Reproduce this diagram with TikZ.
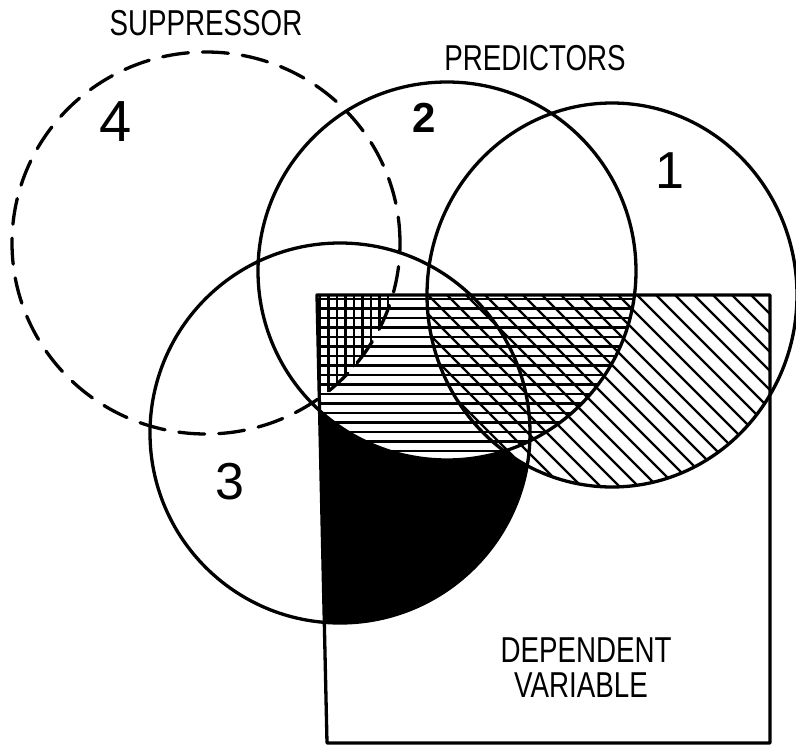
\documentclass[tikz,border=0pt]{standalone}
\usepackage{fontspec}
\setmainfont{Liberation Sans}
\begin{document}
\begin{tikzpicture}[x=1pt,y=-1pt,
  pone/.style={insert path={(612,295) ellipse [x radius=185pt, y radius=192pt]}},
  ptwo/.style={insert path={(447,271) circle [radius=189pt]}},
  pthree/.style={insert path={(340,433) circle [radius=190pt]}},
  pfour/.style={insert path={(206,243) ellipse [x radius=194pt, y radius=191pt]}},
  prect/.style={insert path={(317,295) -- (770,295) -- (770,743) -- (327,743) -- cycle}},
  outline/.style={line width=3.3pt, line join=round},
  hatch/.style={line width=2.6pt},
  lbl/.style={inner sep=0pt, font=\fontsize{36}{36}\selectfont},
  num/.style={inner sep=0pt}
]
\useasboundingbox (0,0) rectangle (796,747);
% black region: dependent variable shared with predictor 3 only
\begin{scope}
  \clip[prect];
  \clip[pthree];
  \fill[black] (300,280) rectangle (800,760);
\end{scope}
\begin{scope}
  \clip[prect];
  \fill[white, ptwo];
  \fill[white, pone];
\end{scope}
% horizontal hatch: predictor 2
\begin{scope}
  \clip[prect];
  \clip[ptwo];
  \foreach \yy in {299,308.5,...,470} {\draw[hatch] (300,\yy) -- (800,\yy);}
\end{scope}
% diagonal hatch: predictor 1
\begin{scope}
  \clip[prect];
  \clip[pone];
  \foreach \xx in {100,119,...,800} {\draw[line width=2.3pt] (\xx,290) -- ++(220,220);}
\end{scope}
% vertical hatch: suppressor
\begin{scope}
  \clip[prect];
  \clip[pfour];
  \foreach \xx in {320,328.5,...,405} {\draw[hatch] (\xx,290) -- (\xx,420);}
\end{scope}
% outlines
\draw[outline, pone];
\draw[outline, ptwo];
\draw[outline, pthree];
\draw[outline, dash pattern=on 26pt off 14pt, line cap=round, pfour];
\draw[outline, prect];
% labels
\node[lbl] (sup) at (206,23) {\scalebox{0.77}[1]{SUPPRESSOR}};
\node[lbl] (pred) at (535,58) {\scalebox{0.77}[1]{PREDICTORS}};
\node[num, font=\fontsize{58}{58}\selectfont] (n4) at (116,122) {4};
\node[num, font=\fontsize{42}{42}\selectfont\bfseries] (n2) at (424,118) {2};
\node[num, font=\fontsize{52}{52}\selectfont] (n1) at (670,171) {1};
\node[num, font=\fontsize{52}{52}\selectfont] (n3) at (230,482) {3};
\node[lbl] (dep) at (586,650) {\scalebox{0.77}[1]{DEPENDENT}};
\node[lbl] (var) at (581,685) {\scalebox{0.77}[1]{VARIABLE}};
\end{tikzpicture}
\end{document}
